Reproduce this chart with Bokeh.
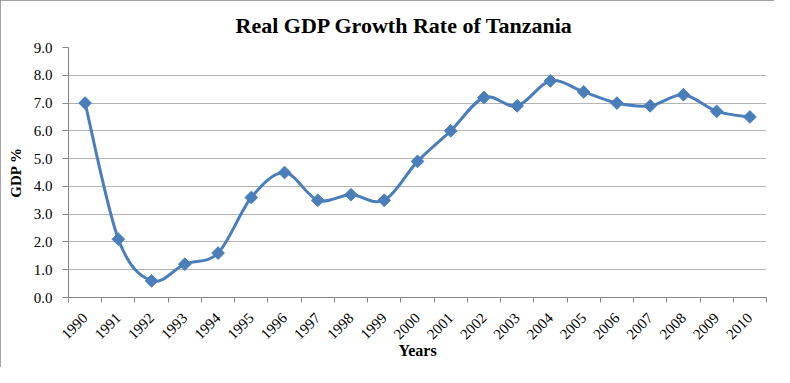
import numpy as np
from bokeh.plotting import figure
from bokeh.models import Range1d, FixedTicker, NumeralTickFormatter, ColumnDataSource, Title
from bokeh.embed import file_html
from bokeh.resources import INLINE

years = ["1990", "1991", "1992", "1993", "1994", "1995", "1996", "1997", "1998", "1999", "2000",
         "2001", "2002", "2003", "2004", "2005", "2006", "2007", "2008", "2009", "2010"]
gdp = [7.0, 2.1, 0.6, 1.2, 1.6, 3.6, 4.5, 3.5, 3.7, 3.5, 4.9,
       6.0, 7.2, 6.9, 7.8, 7.4, 7.0, 6.9, 7.3, 6.7, 6.5]
y_ticks = [0, 1, 2, 3, 4, 5, 6, 7, 8, 9]

BLUE = "#4A7EBB"
SERIF = "Liberation Serif"
AXIS = "#868686"

n = len(years)
xs = np.arange(n) + 0.5
ys = np.array(gdp)

p = figure(width=774, height=367, output_backend="svg", toolbar_location=None,
           x_range=Range1d(0, n), y_range=Range1d(0, 9),
           min_border_left=68, min_border_right=8, min_border_top=47, min_border_bottom=70)
p.title = Title(text="Real GDP Growth Rate of Tanzania", align="left", offset=167,
                text_font=SERIF, text_font_size="22px", text_font_style="bold",
                text_color="black", standoff=19)
p.outline_line_color = None
p.styles = {"outline": "2px solid #868686", "outline-offset": "-2px"}

# smoothed line (Catmull-Rom style bezier through the data points)
P = np.column_stack([xs, ys])
Pm = np.vstack([P[0], P, P[-1]])
c0 = Pm[1:-2] + (Pm[2:-1] - Pm[0:-3]) / 6.0
c1 = Pm[2:-1] - (Pm[3:] - Pm[1:-2]) / 6.0
bz = ColumnDataSource(dict(x0=P[:-1, 0], y0=P[:-1, 1], x1=P[1:, 0], y1=P[1:, 1],
                           cx0=c0[:, 0], cy0=c0[:, 1], cx1=c1[:, 0], cy1=c1[:, 1]))
p.bezier(x0="x0", y0="y0", x1="x1", y1="y1", cx0="cx0", cy0="cy0", cx1="cx1", cy1="cy1",
         source=bz, line_color=BLUE, line_width=3)
p.scatter(xs, ys, marker="square", angle=np.pi / 4, size=9, fill_color=BLUE, line_color=BLUE)

# x axis
xa = p.xaxis[0]
xa.ticker = FixedTicker(ticks=list(xs), minor_ticks=list(range(n + 1)))
xa.major_label_overrides = {float(x): y for x, y in zip(xs, years)}
xa.major_label_orientation = np.pi / 4
xa.major_tick_out = 0
xa.major_tick_in = 0
xa.minor_tick_out = 5
xa.minor_tick_in = 0
xa.minor_tick_line_color = AXIS
xa.axis_line_color = AXIS
xa.major_label_text_font = SERIF
xa.major_label_text_font_size = "15px"
xa.major_label_text_color = "black"
xa.major_label_standoff = 13
xa.axis_label = "Years"
xa.axis_label_text_font = SERIF
xa.axis_label_text_font_size = "16px"
xa.axis_label_text_font_style = "bold"
xa.axis_label_text_color = "black"
xa.axis_label_standoff = -5

# y axis
ya = p.yaxis[0]
ya.ticker = FixedTicker(ticks=y_ticks)
ya.formatter = NumeralTickFormatter(format="0.0")
ya.major_tick_out = 6
ya.major_tick_in = 0
ya.minor_tick_out = 0
ya.minor_tick_in = 0
ya.major_tick_line_color = AXIS
ya.axis_line_color = AXIS
ya.major_label_text_font = SERIF
ya.major_label_text_font_size = "15px"
ya.major_label_text_color = "black"
ya.major_label_standoff = 10
ya.axis_label = "GDP %"
ya.axis_label_text_font = SERIF
ya.axis_label_text_font_size = "15px"
ya.axis_label_text_font_style = "bold"
ya.axis_label_text_color = "black"
ya.axis_label_standoff = 7

p.xgrid.grid_line_color = None
p.ygrid.grid_line_color = "#B4B4B4"
p.ygrid.grid_line_width = 1

open("out.html", "w").write(file_html(p, INLINE))
